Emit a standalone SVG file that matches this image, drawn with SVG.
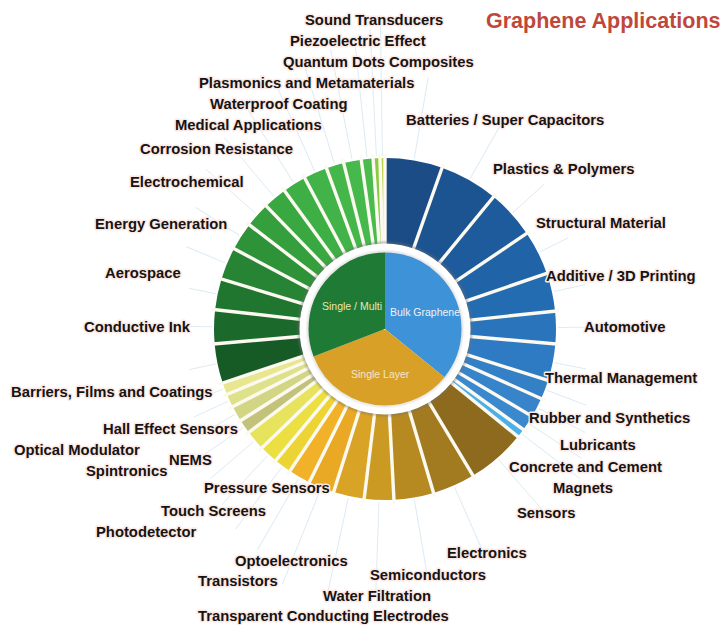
<svg xmlns="http://www.w3.org/2000/svg" width="724" height="625" viewBox="0 0 724 625">
<style>
.seg{fill:none;stroke-width:87}
.pie{fill:none;stroke-width:76.5}
.sep{stroke:#fbf9f0;stroke-width:3.4}
.spk{stroke:#dbe9f2;stroke-width:0.9}
.lbl{font-family:"Liberation Sans",Arial,Helvetica,sans-serif;font-weight:bold;font-size:14.8px;fill:#141414;stroke:#fde9e3;stroke-width:3;paint-order:stroke;stroke-linejoin:round}
.in{font-family:"Liberation Sans",Arial,Helvetica,sans-serif;font-size:10.5px}
.title{font-family:"Liberation Sans",Arial,Helvetica,sans-serif;font-weight:bold;font-size:21.5px;fill:#c0473b}
</style>
<defs>
<filter id="blur" x="-10%" y="-10%" width="120%" height="120%"><feGaussianBlur stdDeviation="1.3"/></filter>
</defs>
<rect width="724" height="625" fill="#ffffff"/>

<g id="connectors">
<line class="spk" x1="385" y1="156" x2="385" y2="74" transform="rotate(9.75 385 329)"/>
<line class="spk" x1="385" y1="156" x2="385" y2="94" transform="rotate(29.5 385 329)"/>
<line class="spk" x1="385" y1="156" x2="385" y2="114" transform="rotate(47.7 385 329)"/>
<line class="spk" x1="385" y1="156" x2="385" y2="124" transform="rotate(63.5 385 329)"/>
<line class="spk" x1="385" y1="156" x2="385" y2="124" transform="rotate(77.5 385 329)"/>
<line class="spk" x1="385" y1="156" x2="385" y2="129" transform="rotate(89.5 385 329)"/>
<line class="spk" x1="385" y1="156" x2="385" y2="124" transform="rotate(101.25 385 329)"/>
<line class="spk" x1="385" y1="156" x2="385" y2="114" transform="rotate(110.75 385 329)"/>
<line class="spk" x1="385" y1="156" x2="385" y2="104" transform="rotate(117.35 385 329)"/>
<line class="spk" x1="385" y1="156" x2="385" y2="94" transform="rotate(123.35 385 329)"/>
<line class="spk" x1="385" y1="156" x2="385" y2="84" transform="rotate(127.5 385 329)"/>
<line class="spk" x1="385" y1="156" x2="385" y2="79" transform="rotate(139 385 329)"/>
<line class="spk" x1="385" y1="156" x2="385" y2="84" transform="rotate(156.25 385 329)"/>
<line class="spk" x1="385" y1="156" x2="385" y2="84" transform="rotate(170.25 385 329)"/>
<line class="spk" x1="385" y1="156" x2="385" y2="64" transform="rotate(182 385 329)"/>
<line class="spk" x1="385" y1="156" x2="385" y2="59" transform="rotate(192.25 385 329)"/>
<line class="spk" x1="385" y1="156" x2="385" y2="54" transform="rotate(201.9 385 329)"/>
<line class="spk" x1="385" y1="156" x2="385" y2="74" transform="rotate(210 385 329)"/>
<line class="spk" x1="385" y1="156" x2="385" y2="79" transform="rotate(216.75 385 329)"/>
<line class="spk" x1="385" y1="156" x2="385" y2="89" transform="rotate(222.85 385 329)"/>
<line class="spk" x1="385" y1="156" x2="385" y2="99" transform="rotate(229.4 385 329)"/>
<line class="spk" x1="385" y1="156" x2="385" y2="109" transform="rotate(235.2 385 329)"/>
<line class="spk" x1="385" y1="156" x2="385" y2="114" transform="rotate(240.3 385 329)"/>
<line class="spk" x1="385" y1="156" x2="385" y2="119" transform="rotate(245.25 385 329)"/>
<line class="spk" x1="385" y1="156" x2="385" y2="124" transform="rotate(249.55 385 329)"/>
<line class="spk" x1="385" y1="156" x2="385" y2="129" transform="rotate(258.3 385 329)"/>
<line class="spk" x1="385" y1="156" x2="385" y2="129" transform="rotate(270.75 385 329)"/>
<line class="spk" x1="385" y1="156" x2="385" y2="129" transform="rotate(281.75 385 329)"/>
<line class="spk" x1="385" y1="156" x2="385" y2="114" transform="rotate(292.5 385 329)"/>
<line class="spk" x1="385" y1="156" x2="385" y2="104" transform="rotate(302.75 385 329)"/>
<line class="spk" x1="385" y1="156" x2="385" y2="89" transform="rotate(311.75 385 329)"/>
<line class="spk" x1="385" y1="156" x2="385" y2="79" transform="rotate(320 385 329)"/>
<line class="spk" x1="385" y1="156" x2="385" y2="69" transform="rotate(328 385 329)"/>
<line class="spk" x1="385" y1="156" x2="385" y2="64" transform="rotate(336 385 329)"/>
<line class="spk" x1="385" y1="156" x2="385" y2="54" transform="rotate(343 385 329)"/>
<line class="spk" x1="385" y1="156" x2="385" y2="44" transform="rotate(349 385 329)"/>
<line class="spk" x1="385" y1="156" x2="385" y2="34" transform="rotate(354 385 329)"/>
<line class="spk" x1="385" y1="156" x2="385" y2="29" transform="rotate(357.15 385 329)"/>
<line class="spk" x1="385" y1="156" x2="385" y2="24" transform="rotate(359.15 385 329)"/>
</g>

<g id="ring-bulk" transform="rotate(-90 385 329)">
<circle class="seg" cx="385" cy="329" r="127.5" pathLength="360" stroke="#1b4c86" stroke-dasharray="19.5 360" stroke-dashoffset="0"/>
<circle class="seg" cx="385" cy="329" r="127.5" pathLength="360" stroke="#1c5492" stroke-dasharray="19.9 360" stroke-dashoffset="-19.5"/>
<circle class="seg" cx="385" cy="329" r="127.5" pathLength="360" stroke="#1e5b9c" stroke-dasharray="16.6 360" stroke-dashoffset="-39.4"/>
<circle class="seg" cx="385" cy="329" r="127.5" pathLength="360" stroke="#2063a7" stroke-dasharray="15 360" stroke-dashoffset="-56"/>
<circle class="seg" cx="385" cy="329" r="127.5" pathLength="360" stroke="#246cb2" stroke-dasharray="13 360" stroke-dashoffset="-71"/>
<circle class="seg" cx="385" cy="329" r="127.5" pathLength="360" stroke="#2a74bc" stroke-dasharray="11 360" stroke-dashoffset="-84"/>
<circle class="seg" cx="385" cy="329" r="127.5" pathLength="360" stroke="#2f7bc3" stroke-dasharray="12.5 360" stroke-dashoffset="-95"/>
<circle class="seg" cx="385" cy="329" r="127.5" pathLength="360" stroke="#3480c7" stroke-dasharray="6.5 360" stroke-dashoffset="-107.5"/>
<circle class="seg" cx="385" cy="329" r="127.5" pathLength="360" stroke="#3784ca" stroke-dasharray="6.7 360" stroke-dashoffset="-114"/>
<circle class="seg" cx="385" cy="329" r="127.5" pathLength="360" stroke="#3a88cd" stroke-dasharray="5.3 360" stroke-dashoffset="-120.7"/>
<circle class="seg" cx="385" cy="329" r="127.5" pathLength="360" stroke="#4cb0e6" stroke-dasharray="3 360" stroke-dashoffset="-126"/>
</g>

<g id="ring-single-layer" transform="rotate(-90 385 329)">
<circle class="seg" cx="385" cy="329" r="127.5" pathLength="360" stroke="#8d6a1d" stroke-dasharray="20 360" stroke-dashoffset="-129"/>
<circle class="seg" cx="385" cy="329" r="127.5" pathLength="360" stroke="#a27b20" stroke-dasharray="14.5 360" stroke-dashoffset="-149"/>
<circle class="seg" cx="385" cy="329" r="127.5" pathLength="360" stroke="#b78a21" stroke-dasharray="13.5 360" stroke-dashoffset="-163.5"/>
<circle class="seg" cx="385" cy="329" r="127.5" pathLength="360" stroke="#cb9a23" stroke-dasharray="10 360" stroke-dashoffset="-177"/>
<circle class="seg" cx="385" cy="329" r="127.5" pathLength="360" stroke="#d9a326" stroke-dasharray="10.5 360" stroke-dashoffset="-187"/>
<circle class="seg" cx="385" cy="329" r="127.5" pathLength="360" stroke="#e9a925" stroke-dasharray="8.8 360" stroke-dashoffset="-197.5"/>
<circle class="seg" cx="385" cy="329" r="127.5" pathLength="360" stroke="#f1b22a" stroke-dasharray="7.5 360" stroke-dashoffset="-206.3"/>
<circle class="seg" cx="385" cy="329" r="127.5" pathLength="360" stroke="#ecd434" stroke-dasharray="5.9 360" stroke-dashoffset="-213.8"/>
<circle class="seg" cx="385" cy="329" r="127.5" pathLength="360" stroke="#ebdf42" stroke-dasharray="6.3 360" stroke-dashoffset="-219.7"/>
<circle class="seg" cx="385" cy="329" r="127.5" pathLength="360" stroke="#e7e35c" stroke-dasharray="6.8 360" stroke-dashoffset="-226"/>
<circle class="seg" cx="385" cy="329" r="127.5" pathLength="360" stroke="#c3c27a" stroke-dasharray="4.8 360" stroke-dashoffset="-232.8"/>
<circle class="seg" cx="385" cy="329" r="127.5" pathLength="360" stroke="#d2d684" stroke-dasharray="5.4 360" stroke-dashoffset="-237.6"/>
<circle class="seg" cx="385" cy="329" r="127.5" pathLength="360" stroke="#dde18a" stroke-dasharray="4.5 360" stroke-dashoffset="-243"/>
<circle class="seg" cx="385" cy="329" r="127.5" pathLength="360" stroke="#e8e790" stroke-dasharray="4.1 360" stroke-dashoffset="-247.5"/>
</g>

<g id="ring-single-multi" transform="rotate(-90 385 329)">
<circle class="seg" cx="385" cy="329" r="127.5" pathLength="360" stroke="#165a26" stroke-dasharray="13.4 360" stroke-dashoffset="-251.6"/>
<circle class="seg" cx="385" cy="329" r="127.5" pathLength="360" stroke="#1b692b" stroke-dasharray="11.5 360" stroke-dashoffset="-265"/>
<circle class="seg" cx="385" cy="329" r="127.5" pathLength="360" stroke="#20762f" stroke-dasharray="10.5 360" stroke-dashoffset="-276.5"/>
<circle class="seg" cx="385" cy="329" r="127.5" pathLength="360" stroke="#278434" stroke-dasharray="11 360" stroke-dashoffset="-287"/>
<circle class="seg" cx="385" cy="329" r="127.5" pathLength="360" stroke="#2e9238" stroke-dasharray="9.5 360" stroke-dashoffset="-298"/>
<circle class="seg" cx="385" cy="329" r="127.5" pathLength="360" stroke="#359f3d" stroke-dasharray="8.5 360" stroke-dashoffset="-307.5"/>
<circle class="seg" cx="385" cy="329" r="127.5" pathLength="360" stroke="#3aa841" stroke-dasharray="8 360" stroke-dashoffset="-316"/>
<circle class="seg" cx="385" cy="329" r="127.5" pathLength="360" stroke="#3eaf45" stroke-dasharray="8 360" stroke-dashoffset="-324"/>
<circle class="seg" cx="385" cy="329" r="127.5" pathLength="360" stroke="#41b348" stroke-dasharray="8 360" stroke-dashoffset="-332"/>
<circle class="seg" cx="385" cy="329" r="127.5" pathLength="360" stroke="#44b64a" stroke-dasharray="6 360" stroke-dashoffset="-340"/>
<circle class="seg" cx="385" cy="329" r="127.5" pathLength="360" stroke="#46b94c" stroke-dasharray="6 360" stroke-dashoffset="-346"/>
<circle class="seg" cx="385" cy="329" r="127.5" pathLength="360" stroke="#4abc4e" stroke-dasharray="4 360" stroke-dashoffset="-352"/>
<circle class="seg" cx="385" cy="329" r="127.5" pathLength="360" stroke="#8bc93f" stroke-dasharray="2.3 360" stroke-dashoffset="-356"/>
<circle class="seg" cx="385" cy="329" r="127.5" pathLength="360" stroke="#bcd64a" stroke-dasharray="1.7 360" stroke-dashoffset="-358.3"/>
</g>

<g id="separators">
<line class="sep" x1="385" y1="246" x2="385" y2="154" transform="rotate(0 385 329)"/>
<line class="sep" x1="385" y1="246" x2="385" y2="154" transform="rotate(19.5 385 329)"/>
<line class="sep" x1="385" y1="246" x2="385" y2="154" transform="rotate(39.4 385 329)"/>
<line class="sep" x1="385" y1="246" x2="385" y2="154" transform="rotate(56 385 329)"/>
<line class="sep" x1="385" y1="246" x2="385" y2="154" transform="rotate(71 385 329)"/>
<line class="sep" x1="385" y1="246" x2="385" y2="154" transform="rotate(84 385 329)"/>
<line class="sep" x1="385" y1="246" x2="385" y2="154" transform="rotate(95 385 329)"/>
<line class="sep" x1="385" y1="246" x2="385" y2="154" transform="rotate(107.5 385 329)"/>
<line class="sep" x1="385" y1="246" x2="385" y2="154" transform="rotate(114 385 329)"/>
<line class="sep" x1="385" y1="246" x2="385" y2="154" transform="rotate(120.7 385 329)"/>
<line class="sep" x1="385" y1="246" x2="385" y2="154" transform="rotate(126 385 329)" stroke-width="2"/>
<line class="sep" x1="385" y1="246" x2="385" y2="154" transform="rotate(129 385 329)" stroke-width="2"/>
<line class="sep" x1="385" y1="246" x2="385" y2="154" transform="rotate(149 385 329)"/>
<line class="sep" x1="385" y1="246" x2="385" y2="154" transform="rotate(163.5 385 329)"/>
<line class="sep" x1="385" y1="246" x2="385" y2="154" transform="rotate(177 385 329)"/>
<line class="sep" x1="385" y1="246" x2="385" y2="154" transform="rotate(187 385 329)"/>
<line class="sep" x1="385" y1="246" x2="385" y2="154" transform="rotate(197.5 385 329)"/>
<line class="sep" x1="385" y1="246" x2="385" y2="154" transform="rotate(206.3 385 329)"/>
<line class="sep" x1="385" y1="246" x2="385" y2="154" transform="rotate(213.8 385 329)"/>
<line class="sep" x1="385" y1="246" x2="385" y2="154" transform="rotate(219.7 385 329)"/>
<line class="sep" x1="385" y1="246" x2="385" y2="154" transform="rotate(226 385 329)"/>
<line class="sep" x1="385" y1="246" x2="385" y2="154" transform="rotate(232.8 385 329)"/>
<line class="sep" x1="385" y1="246" x2="385" y2="154" transform="rotate(237.6 385 329)"/>
<line class="sep" x1="385" y1="246" x2="385" y2="154" transform="rotate(243 385 329)"/>
<line class="sep" x1="385" y1="246" x2="385" y2="154" transform="rotate(247.5 385 329)"/>
<line class="sep" x1="385" y1="246" x2="385" y2="154" transform="rotate(251.6 385 329)"/>
<line class="sep" x1="385" y1="246" x2="385" y2="154" transform="rotate(265 385 329)"/>
<line class="sep" x1="385" y1="246" x2="385" y2="154" transform="rotate(276.5 385 329)"/>
<line class="sep" x1="385" y1="246" x2="385" y2="154" transform="rotate(287 385 329)"/>
<line class="sep" x1="385" y1="246" x2="385" y2="154" transform="rotate(298 385 329)"/>
<line class="sep" x1="385" y1="246" x2="385" y2="154" transform="rotate(307.5 385 329)"/>
<line class="sep" x1="385" y1="246" x2="385" y2="154" transform="rotate(316 385 329)"/>
<line class="sep" x1="385" y1="246" x2="385" y2="154" transform="rotate(324 385 329)"/>
<line class="sep" x1="385" y1="246" x2="385" y2="154" transform="rotate(332 385 329)"/>
<line class="sep" x1="385" y1="246" x2="385" y2="154" transform="rotate(340 385 329)"/>
<line class="sep" x1="385" y1="246" x2="385" y2="154" transform="rotate(346 385 329)"/>
<line class="sep" x1="385" y1="246" x2="385" y2="154" transform="rotate(352 385 329)"/>
<line class="sep" x1="385" y1="246" x2="385" y2="154" transform="rotate(356 385 329)" stroke-width="2.4"/>
<line class="sep" x1="385" y1="246" x2="385" y2="154" transform="rotate(358.3 385 329)" stroke-width="1.6"/>
</g>

<g id="core">
<circle cx="385" cy="329" r="86" fill="none" stroke="#6f6f6f" stroke-width="2.5" opacity="0.55" filter="url(#blur)"/>
<circle cx="385" cy="329" r="85.5" fill="#ffffff"/>
<circle cx="385" cy="329" r="77" fill="none" stroke="#8a8a8a" stroke-width="1.5" opacity="0.45" filter="url(#blur)"/>
<g transform="rotate(-90 385 329)">
<circle class="pie" cx="385" cy="329" r="38.25" pathLength="360" stroke="#3e92d7" stroke-dasharray="129 360" stroke-dashoffset="0"/>
<circle class="pie" cx="385" cy="329" r="38.25" pathLength="360" stroke="#d8a026" stroke-dasharray="120 360" stroke-dashoffset="-129"/>
<circle class="pie" cx="385" cy="329" r="38.25" pathLength="360" stroke="#1f7a35" stroke-dasharray="111 360" stroke-dashoffset="-249"/>
</g>
</g>
<g id="n-bulk"><text class="in" x="390" y="316" fill="#eef3f8">Bulk Graphene</text></g>
<g id="n-single-multi"><text class="in" x="322" y="310" fill="#ebe6b4">Single / Multi</text></g>
<g id="n-single-layer"><text class="in" x="351" y="378" fill="#f3e6c8">Single Layer</text></g>

<g id="title"><text class="title" x="486" y="28">Graphene Applications</text></g>

<g id="n-sound"><text class="lbl" x="305" y="25">Sound Transducers</text></g>
<g id="n-piezo"><text class="lbl" x="290" y="46">Piezoelectric Effect</text></g>
<g id="n-quantum"><text class="lbl" x="283" y="66.5">Quantum Dots Composites</text></g>
<g id="n-plasmonics"><text class="lbl" x="199" y="87.5">Plasmonics and Metamaterials</text></g>
<g id="n-waterproof"><text class="lbl" x="210" y="108.5">Waterproof Coating</text></g>
<g id="n-medical"><text class="lbl" x="175" y="129.5">Medical Applications</text></g>
<g id="n-corrosion"><text class="lbl" x="140" y="153.5">Corrosion Resistance</text></g>
<g id="n-electrochemical"><text class="lbl" x="130" y="186.5">Electrochemical</text></g>
<g id="n-energy"><text class="lbl" x="95" y="228.5">Energy Generation</text></g>
<g id="n-aerospace"><text class="lbl" x="105" y="278">Aerospace</text></g>
<g id="n-conductive"><text class="lbl" x="84" y="332">Conductive Ink</text></g>
<g id="n-barriers"><text class="lbl" x="11" y="396.5">Barriers, Films and Coatings</text></g>
<g id="n-hall"><text class="lbl" x="103" y="433.5">Hall Effect Sensors</text></g>
<g id="n-optical"><text class="lbl" x="14" y="454.5">Optical Modulator</text></g>
<g id="n-nems"><text class="lbl" x="169" y="465">NEMS</text></g>
<g id="n-spintronics"><text class="lbl" x="86" y="475.5">Spintronics</text></g>
<g id="n-pressure"><text class="lbl" x="204" y="492.5">Pressure Sensors</text></g>
<g id="n-touch"><text class="lbl" x="161" y="515.5">Touch Screens</text></g>
<g id="n-photodetector"><text class="lbl" x="96" y="537">Photodetector</text></g>
<g id="n-optoelectronics"><text class="lbl" x="235" y="565.5">Optoelectronics</text></g>
<g id="n-transistors"><text class="lbl" x="198" y="586">Transistors</text></g>
<g id="n-water"><text class="lbl" x="323" y="601">Water Filtration</text></g>
<g id="n-semiconductors"><text class="lbl" x="370" y="580">Semiconductors</text></g>
<g id="n-transparent"><text class="lbl" x="198" y="620.5">Transparent Conducting Electrodes</text></g>
<g id="n-electronics"><text class="lbl" x="447" y="557.5">Electronics</text></g>
<g id="n-sensors"><text class="lbl" x="517" y="517.5">Sensors</text></g>
<g id="n-magnets"><text class="lbl" x="553" y="492.5">Magnets</text></g>
<g id="n-concrete"><text class="lbl" x="509" y="471.5">Concrete and Cement</text></g>
<g id="n-lubricants"><text class="lbl" x="560" y="450">Lubricants</text></g>
<g id="n-rubber"><text class="lbl" x="529" y="423">Rubber and Synthetics</text></g>
<g id="n-thermal"><text class="lbl" x="545" y="382.5">Thermal Management</text></g>
<g id="n-automotive"><text class="lbl" x="584" y="332">Automotive</text></g>
<g id="n-additive"><text class="lbl" x="546" y="281">Additive / 3D Printing</text></g>
<g id="n-structural"><text class="lbl" x="536" y="228">Structural Material</text></g>
<g id="n-plastics"><text class="lbl" x="493" y="173.5">Plastics &amp; Polymers</text></g>
<g id="n-batteries"><text class="lbl" x="406" y="125">Batteries / Super Capacitors</text></g>
</svg>
